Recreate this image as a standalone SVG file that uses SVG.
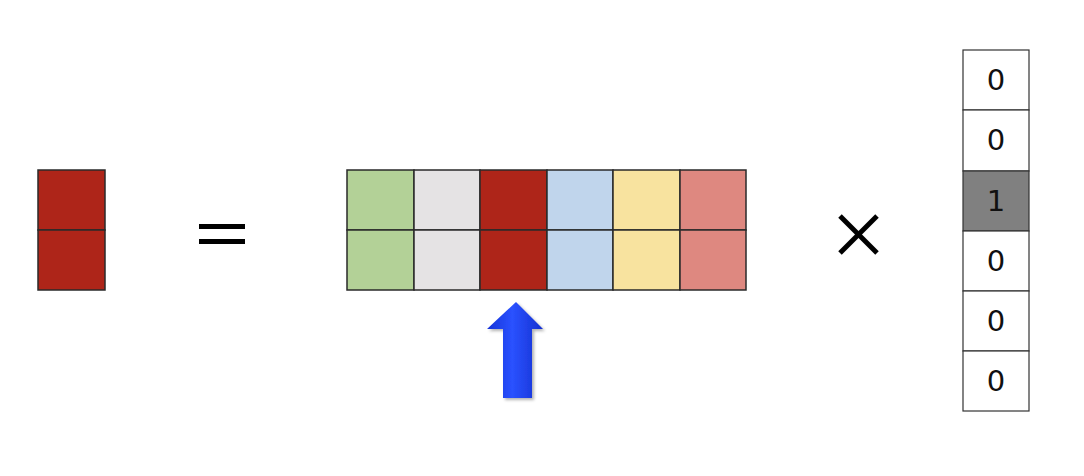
<svg xmlns="http://www.w3.org/2000/svg" width="1084" height="476" viewBox="0 0 1084 476">
<style>
.c{stroke:#2a2a2a;stroke-width:1.5}
.w{fill:#fff;stroke:#333;stroke-width:1.2}
.t{font-family:"DejaVu Sans",sans-serif;font-size:29px;fill:#111;text-anchor:middle;dominant-baseline:central}
.op{stroke:#000;stroke-width:5;stroke-linecap:butt;fill:none}
</style>
<defs>
<linearGradient id="ag" x1="0" y1="0" x2="1" y2="0">
<stop offset="0" stop-color="#1533d8"/>
<stop offset="0.45" stop-color="#2a52ff"/>
<stop offset="1" stop-color="#1530d0"/>
</linearGradient>
<filter id="sh" x="-20%" y="-20%" width="150%" height="150%">
<feDropShadow dx="2" dy="2" stdDeviation="1.5" flood-color="#000" flood-opacity="0.3"/>
</filter>
</defs>
<rect width="1084" height="476" fill="#fff"/>
<g id="result">
<rect class="c" x="38" y="170" width="67" height="60" fill="#ae2519"/>
<rect class="c" x="38" y="230" width="67" height="60" fill="#ae2519"/>
</g>
<g id="equals">
<line class="op" x1="199" y1="226.5" x2="245" y2="226.5"/>
<line class="op" x1="199" y1="241.5" x2="245" y2="241.5"/>
</g>
<g id="matrix">
<rect class="c" x="347" y="170" width="67" height="60" fill="#b3d197"/>
<rect class="c" x="347" y="230" width="67" height="60" fill="#b3d197"/>
<rect class="c" x="414" y="170" width="66" height="60" fill="#e5e3e4"/>
<rect class="c" x="414" y="230" width="66" height="60" fill="#e5e3e4"/>
<rect class="c" x="480" y="170" width="67" height="60" fill="#ae2519"/>
<rect class="c" x="480" y="230" width="67" height="60" fill="#ae2519"/>
<rect class="c" x="547" y="170" width="66" height="60" fill="#c0d5ec"/>
<rect class="c" x="547" y="230" width="66" height="60" fill="#c0d5ec"/>
<rect class="c" x="613" y="170" width="67" height="60" fill="#f8e39f"/>
<rect class="c" x="613" y="230" width="67" height="60" fill="#f8e39f"/>
<rect class="c" x="680" y="170" width="66" height="60" fill="#de8880"/>
<rect class="c" x="680" y="230" width="66" height="60" fill="#de8880"/>
</g>
<g id="arrow">
<polygon points="516,302 543,329 532,329 532,398 503,398 503,329 487,329" fill="url(#ag)" filter="url(#sh)"/>
</g>
<g id="times">
<line class="op" x1="840" y1="216" x2="877" y2="253"/>
<line class="op" x1="877" y1="216" x2="840" y2="253"/>
</g>
<g id="vector">
<rect class="w" x="963" y="50" width="66" height="60"/>
<rect class="w" x="963" y="110" width="66" height="61"/>
<rect x="963" y="171" width="66" height="60" fill="#808080" stroke="#333" stroke-width="1.2"/>
<rect class="w" x="963" y="231" width="66" height="60"/>
<rect class="w" x="963" y="291" width="66" height="60"/>
<rect class="w" x="963" y="351" width="66" height="60"/>
<text class="t" x="996" y="80">0</text>
<text class="t" x="996" y="140">0</text>
<text class="t" x="996" y="201">1</text>
<text class="t" x="996" y="261">0</text>
<text class="t" x="996" y="321">0</text>
<text class="t" x="996" y="381">0</text>
</g>
</svg>
